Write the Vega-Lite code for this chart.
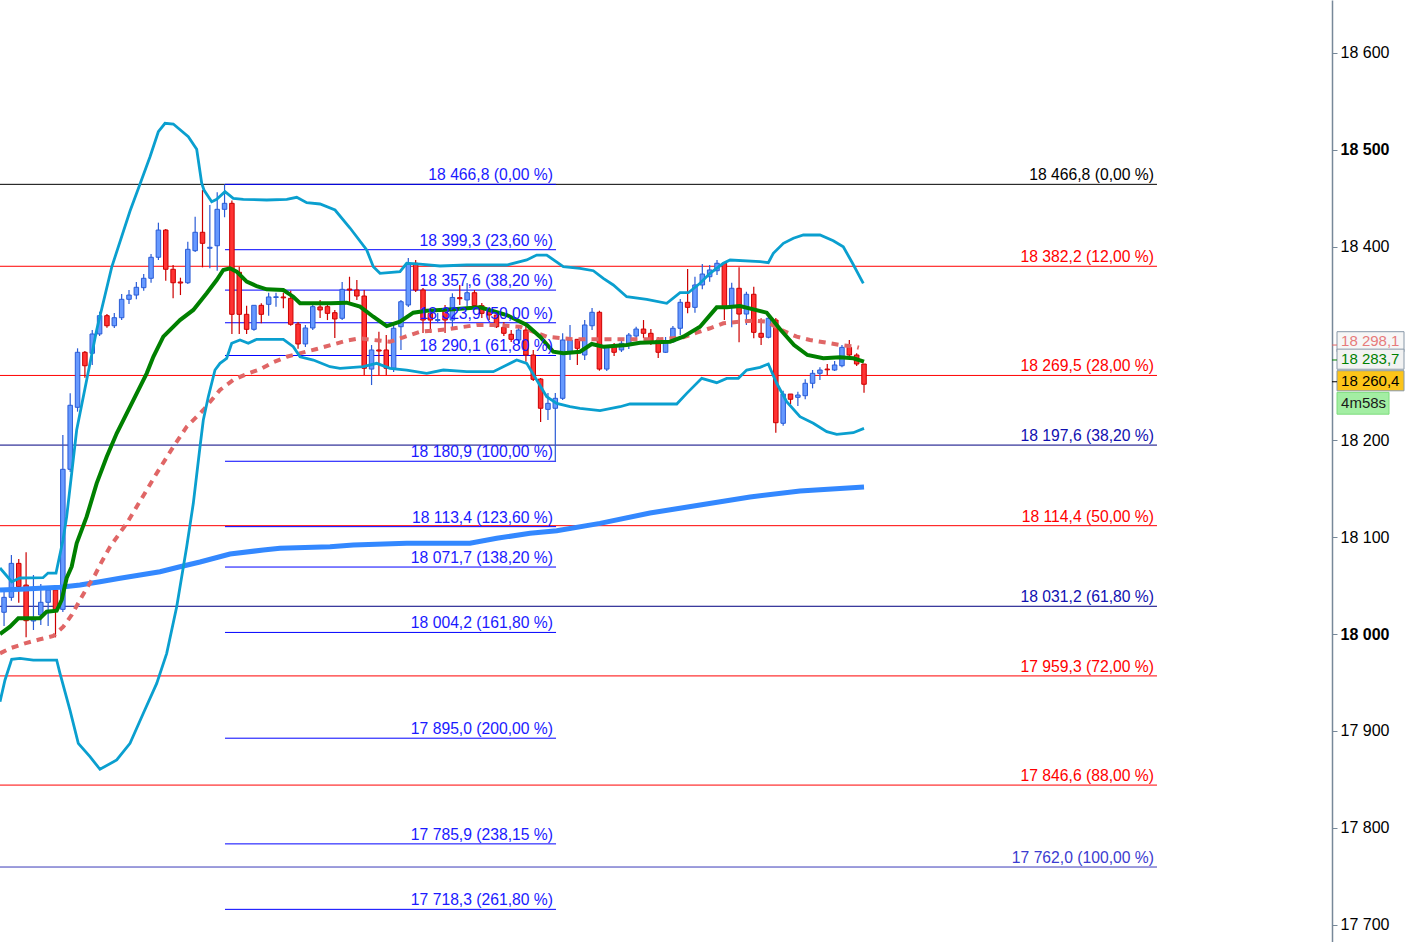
{
"$schema": "https://vega.github.io/schema/vega-lite/v6.json",
"width": 1332, "height": 942,
"autosize": {"type": "none"},
"padding": {"left": 0, "top": 0, "right": 73, "bottom": 0},
"background": "white",
"config": {"view": {"stroke": null}},
"resolve": {"axis": {"x": "independent", "y": "independent"}},
"datasets": {
"candles": [
{"k":0,"o":18001.5,"h":18030.4,"l":17999.5,"c":18025.3},
{"k":1,"o":18025.0,"h":18046.2,"l":18010.8,"c":18040.4},
{"k":2,"o":18040.4,"h":18084.1,"l":18036.9,"c":18075.5},
{"k":3,"o":18075.5,"h":18080.0,"l":18034.9,"c":18051.4},
{"k":4,"o":18053.1,"h":18086.9,"l":17999.1,"c":18016.3},
{"k":5,"o":18016.0,"h":18063.5,"l":18006.7,"c":18017.5},
{"k":6,"o":18022.2,"h":18054.2,"l":18011.8,"c":18035.3},
{"k":7,"o":18035.3,"h":18051.4,"l":18010.8,"c":18048.0},
{"k":8,"o":18048.0,"h":18050.0,"l":17999.1,"c":18028.0},
{"k":9,"o":18028.0,"h":18208.0,"l":18025.3,"c":18172.6},
{"k":10,"o":18172.6,"h":18251.0,"l":18169.8,"c":18238.7},
{"k":11,"o":18236.6,"h":18297.5,"l":18232.1,"c":18293.4},
{"k":12,"o":18293.4,"h":18294.7,"l":18267.2,"c":18279.5},
{"k":13,"o":18292.4,"h":18316.4,"l":18280.3,"c":18312.3},
{"k":14,"o":18312.3,"h":18335.3,"l":18310.2,"c":18331.2},
{"k":15,"o":18331.2,"h":18332.9,"l":18318.8,"c":18320.8},
{"k":16,"o":18320.8,"h":18334.0,"l":18318.5,"c":18329.1},
{"k":17,"o":18329.1,"h":18353.6,"l":18326.7,"c":18348.1},
{"k":18,"o":18348.1,"h":18357.7,"l":18343.2,"c":18352.5},
{"k":19,"o":18352.5,"h":18366.0,"l":18348.1,"c":18360.5},
{"k":20,"o":18360.1,"h":18374.2,"l":18357.0,"c":18369.8},
{"k":21,"o":18369.8,"h":18394.9,"l":18365.2,"c":18391.5},
{"k":22,"o":18391.5,"h":18427.2,"l":18388.7,"c":18419.6},
{"k":23,"o":18419.6,"h":18420.7,"l":18367.3,"c":18379.1},
{"k":24,"o":18379.1,"h":18383.5,"l":18349.1,"c":18365.2},
{"k":25,"o":18366.0,"h":18370.4,"l":18352.5,"c":18364.9},
{"k":26,"o":18365.2,"h":18407.6,"l":18363.9,"c":18399.7},
{"k":27,"o":18398.3,"h":18433.4,"l":18396.9,"c":18417.3},
{"k":28,"o":18417.3,"h":18460.9,"l":18381.1,"c":18405.9},
{"k":29,"o":18400.8,"h":18445.5,"l":18380.1,"c":18401.8},
{"k":30,"o":18403.4,"h":18458.6,"l":18377.6,"c":18441.0},
{"k":31,"o":18441.0,"h":18466.8,"l":18432.8,"c":18447.2},
{"k":32,"o":18447.2,"h":18450.0,"l":18312.3,"c":18332.6},
{"k":33,"o":18376.0,"h":18381.4,"l":18312.3,"c":18332.6},
{"k":34,"o":18332.6,"h":18341.5,"l":18312.3,"c":18317.1},
{"k":35,"o":18317.1,"h":18341.9,"l":18315.7,"c":18341.9},
{"k":36,"o":18341.9,"h":18344.0,"l":18323.3,"c":18332.6},
{"k":37,"o":18342.9,"h":18354.9,"l":18331.2,"c":18350.5},
{"k":38,"o":18350.0,"h":18354.9,"l":18340.5,"c":18350.7},
{"k":39,"o":18350.5,"h":18354.9,"l":18338.8,"c":18349.6},
{"k":40,"o":18349.1,"h":18357.0,"l":18320.8,"c":18322.3},
{"k":41,"o":18322.6,"h":18324.7,"l":18297.1,"c":18302.0},
{"k":42,"o":18302.0,"h":18321.6,"l":18298.9,"c":18318.5},
{"k":43,"o":18318.5,"h":18342.2,"l":18316.4,"c":18340.5},
{"k":44,"o":18340.2,"h":18347.4,"l":18328.8,"c":18337.1},
{"k":45,"o":18340.5,"h":18345.3,"l":18326.7,"c":18333.6},
{"k":46,"o":18334.3,"h":18337.1,"l":18308.1,"c":18327.8},
{"k":47,"o":18328.5,"h":18366.0,"l":18326.7,"c":18358.4},
{"k":48,"o":18358.7,"h":18371.4,"l":18344.0,"c":18357.7},
{"k":49,"o":18357.7,"h":18368.0,"l":18347.4,"c":18351.5},
{"k":50,"o":18351.5,"h":18357.7,"l":18269.9,"c":18276.9},
{"k":51,"o":18276.1,"h":18300.9,"l":18259.6,"c":18295.8},
{"k":52,"o":18295.8,"h":18314.6,"l":18269.9,"c":18294.7},
{"k":53,"o":18295.8,"h":18311.2,"l":18269.9,"c":18276.9},
{"k":54,"o":18276.9,"h":18321.6,"l":18273.0,"c":18318.2},
{"k":55,"o":18319.8,"h":18347.4,"l":18295.8,"c":18345.6},
{"k":56,"o":18342.2,"h":18390.7,"l":18340.2,"c":18385.3},
{"k":57,"o":18385.3,"h":18388.7,"l":18355.6,"c":18357.7},
{"k":58,"o":18357.7,"h":18359.8,"l":18313.3,"c":18326.7},
{"k":59,"o":18333.4,"h":18339.1,"l":18313.3,"c":18326.7},
{"k":60,"o":18326.2,"h":18334.0,"l":18324.7,"c":18327.2},
{"k":61,"o":18337.1,"h":18342.2,"l":18313.3,"c":18326.7},
{"k":62,"o":18326.7,"h":18354.3,"l":18316.4,"c":18350.0},
{"k":63,"o":18349.8,"h":18362.9,"l":18342.2,"c":18348.7},
{"k":64,"o":18347.4,"h":18364.9,"l":18340.5,"c":18354.9},
{"k":65,"o":18354.9,"h":18357.7,"l":18340.2,"c":18341.7},
{"k":66,"o":18341.5,"h":18344.3,"l":18328.8,"c":18333.6},
{"k":67,"o":18337.1,"h":18339.1,"l":18326.7,"c":18331.9},
{"k":68,"o":18331.9,"h":18334.0,"l":18318.5,"c":18319.8},
{"k":69,"o":18319.2,"h":18324.7,"l":18310.2,"c":18313.0},
{"k":70,"o":18312.0,"h":18316.4,"l":18304.0,"c":18306.8},
{"k":71,"o":18306.1,"h":18320.5,"l":18302.0,"c":18316.4},
{"k":72,"o":18316.4,"h":18320.5,"l":18283.7,"c":18290.6},
{"k":73,"o":18290.6,"h":18295.8,"l":18263.8,"c":18265.5},
{"k":74,"o":18265.8,"h":18266.8,"l":18221.4,"c":18235.6},
{"k":75,"o":18234.5,"h":18251.4,"l":18223.5,"c":18240.7},
{"k":76,"o":18235.6,"h":18251.4,"l":18180.9,"c":18245.9},
{"k":77,"o":18245.9,"h":18313.0,"l":18244.1,"c":18306.1},
{"k":78,"o":18293.7,"h":18321.6,"l":18285.4,"c":18306.1},
{"k":79,"o":18306.8,"h":18307.1,"l":18280.3,"c":18297.5},
{"k":80,"o":18290.6,"h":18326.7,"l":18285.4,"c":18321.6},
{"k":81,"o":18320.8,"h":18339.1,"l":18316.4,"c":18334.7},
{"k":82,"o":18334.7,"h":18336.3,"l":18274.4,"c":18276.1},
{"k":83,"o":18276.1,"h":18300.9,"l":18274.1,"c":18299.2},
{"k":84,"o":18300.9,"h":18302.9,"l":18289.6,"c":18293.4},
{"k":85,"o":18295.8,"h":18308.1,"l":18293.7,"c":18302.7},
{"k":86,"o":18300.9,"h":18313.3,"l":18296.8,"c":18311.2},
{"k":87,"o":18310.2,"h":18319.8,"l":18306.1,"c":18317.4},
{"k":88,"o":18317.4,"h":18326.7,"l":18308.1,"c":18313.0},
{"k":89,"o":18313.0,"h":18317.4,"l":18300.9,"c":18304.3},
{"k":90,"o":18306.1,"h":18309.2,"l":18287.5,"c":18293.4},
{"k":91,"o":18293.4,"h":18309.2,"l":18292.7,"c":18304.3},
{"k":92,"o":18304.3,"h":18320.5,"l":18302.9,"c":18318.2},
{"k":93,"o":18318.2,"h":18348.4,"l":18311.2,"c":18345.0},
{"k":94,"o":18345.0,"h":18379.4,"l":18333.6,"c":18339.8},
{"k":95,"o":18339.8,"h":18371.4,"l":18334.3,"c":18362.9},
{"k":96,"o":18362.9,"h":18384.5,"l":18358.4,"c":18374.2},
{"k":97,"o":18371.4,"h":18383.5,"l":18366.3,"c":18378.4},
{"k":98,"o":18377.6,"h":18388.7,"l":18373.2,"c":18385.3},
{"k":99,"o":18385.3,"h":18386.6,"l":18326.7,"c":18339.8},
{"k":100,"o":18339.8,"h":18365.2,"l":18319.2,"c":18359.5},
{"k":101,"o":18359.5,"h":18381.1,"l":18303.7,"c":18332.9},
{"k":102,"o":18332.9,"h":18355.9,"l":18321.6,"c":18353.3},
{"k":103,"o":18353.3,"h":18361.1,"l":18307.8,"c":18314.0},
{"k":104,"o":18313.0,"h":18328.5,"l":18300.9,"c":18308.9},
{"k":105,"o":18308.9,"h":18331.9,"l":18307.8,"c":18328.5},
{"k":106,"o":18326.7,"h":18328.8,"l":18210.4,"c":18220.7},
{"k":107,"o":18220.1,"h":18253.7,"l":18217.6,"c":18250.3},
{"k":108,"o":18250.3,"h":18250.3,"l":18240.0,"c":18244.9},
{"k":109,"o":18246.9,"h":18252.7,"l":18237.9,"c":18249.3},
{"k":110,"o":18248.6,"h":18265.5,"l":18244.9,"c":18261.4},
{"k":111,"o":18261.4,"h":18275.1,"l":18256.2,"c":18271.7},
{"k":112,"o":18271.7,"h":18277.9,"l":18264.8,"c":18275.1},
{"k":113,"o":18276.1,"h":18281.3,"l":18269.9,"c":18275.3},
{"k":114,"o":18275.1,"h":18284.4,"l":18274.1,"c":18280.3},
{"k":115,"o":18279.5,"h":18300.9,"l":18277.9,"c":18298.5},
{"k":116,"o":18298.5,"h":18306.1,"l":18288.8,"c":18290.6},
{"k":117,"o":18290.6,"h":18292.4,"l":18279.2,"c":18281.3},
{"k":118,"o":18281.3,"h":18281.3,"l":18251.7,"c":18260.4}
],
"upper": [{"k":0.45,"v":18070.7},{"k":2.04,"v":18056.5},{"k":3.17,"v":18060.4},{"k":6.3,"v":18060.7},{"k":6.98,"v":18065.5},{"k":8.07,"v":18065.5},{"k":9.02,"v":18099.6},{"k":9.52,"v":18123.7},{"k":10.88,"v":18213.2},{"k":12.24,"v":18264.8},{"k":13.6,"v":18316.4},{"k":15.65,"v":18381.4},{"k":18.14,"v":18439.3},{"k":19.5,"v":18467.1},{"k":20.86,"v":18495.3},{"k":21.99,"v":18521.1},{"k":22.9,"v":18529.8},{"k":24.03,"v":18529.1},{"k":26.07,"v":18516.0},{"k":27.21,"v":18503.0},{"k":27.89,"v":18467.9},{"k":28.2,"v":18460.9},{"k":29.25,"v":18448.9},{"k":29.93,"v":18451.3},{"k":31.06,"v":18459.2},{"k":32.19,"v":18452.4},{"k":33.55,"v":18451.3},{"k":36.73,"v":18450.6},{"k":39.46,"v":18451.3},{"k":40.82,"v":18453.4},{"k":42.18,"v":18447.8},{"k":43.99,"v":18446.5},{"k":46.03,"v":18440.3},{"k":48.07,"v":18421.7},{"k":50.34,"v":18399.0},{"k":51.24,"v":18381.8},{"k":52.15,"v":18374.9},{"k":54.87,"v":18376.6},{"k":55.78,"v":18385.3},{"k":57.59,"v":18384.5},{"k":60.31,"v":18382.5},{"k":63.95,"v":18383.5},{"k":69.39,"v":18383.5},{"k":72.11,"v":18388.7},{"k":73.47,"v":18393.8},{"k":74.83,"v":18393.8},{"k":77.09,"v":18381.8},{"k":79.36,"v":18380.1},{"k":81.17,"v":18377.6},{"k":82.53,"v":18369.8},{"k":83.89,"v":18362.9},{"k":85.71,"v":18350.8},{"k":88.44,"v":18348.1},{"k":91.16,"v":18344.0},{"k":92.97,"v":18354.9},{"k":94.1,"v":18354.9},{"k":95.69,"v":18364.6},{"k":97.05,"v":18374.9},{"k":98.86,"v":18385.3},{"k":99.78,"v":18388.7},{"k":103.86,"v":18386.9},{"k":104.98,"v":18385.9},{"k":105.66,"v":18395.6},{"k":107.03,"v":18405.9},{"k":108.39,"v":18411.1},{"k":109.75,"v":18414.5},{"k":112.01,"v":18414.5},{"k":113.82,"v":18408.6},{"k":115.18,"v":18402.4},{"k":116.44,"v":18385.3},{"k":117.9,"v":18364.6}],
"lower": [{"k":0.45,"v":17932.7},{"k":1.13,"v":17955.1},{"k":2.04,"v":17976.4},{"k":3.17,"v":17977.4},{"k":4.98,"v":17975.7},{"k":8.16,"v":17975.7},{"k":8.61,"v":17962.0},{"k":9.97,"v":17924.1},{"k":11.1,"v":17889.7},{"k":12.69,"v":17875.9},{"k":14.05,"v":17862.9},{"k":16.33,"v":17872.5},{"k":18.14,"v":17889.7},{"k":19.95,"v":17920.7},{"k":21.77,"v":17951.6},{"k":23.13,"v":17982.6},{"k":24.49,"v":18030.7},{"k":25.85,"v":18092.7},{"k":26.75,"v":18137.5},{"k":27.66,"v":18195.9},{"k":28.11,"v":18223.5},{"k":28.79,"v":18247.5},{"k":29.7,"v":18275.1},{"k":30.38,"v":18282.0},{"k":31.29,"v":18287.2},{"k":31.97,"v":18302.7},{"k":33.1,"v":18306.1},{"k":34.23,"v":18302.7},{"k":35.37,"v":18306.8},{"k":39.0,"v":18306.8},{"k":40.35,"v":18299.2},{"k":41.27,"v":18288.8},{"k":43.08,"v":18285.4},{"k":45.35,"v":18278.5},{"k":46.71,"v":18276.9},{"k":49.88,"v":18278.5},{"k":51.7,"v":18282.0},{"k":53.51,"v":18276.9},{"k":55.78,"v":18275.1},{"k":58.5,"v":18271.7},{"k":60.76,"v":18275.1},{"k":63.95,"v":18273.4},{"k":67.56,"v":18273.4},{"k":69.39,"v":18280.3},{"k":70.75,"v":18285.4},{"k":72.11,"v":18282.0},{"k":73.47,"v":18264.8},{"k":74.83,"v":18247.5},{"k":76.19,"v":18240.7},{"k":78.0,"v":18237.2},{"k":79.36,"v":18235.6},{"k":82.08,"v":18233.1},{"k":84.8,"v":18237.2},{"k":86.16,"v":18240.0},{"k":92.52,"v":18240.0},{"k":93.88,"v":18251.0},{"k":95.92,"v":18266.5},{"k":97.96,"v":18262.0},{"k":99.32,"v":18266.5},{"k":100.9,"v":18266.5},{"k":102.04,"v":18275.1},{"k":103.85,"v":18277.9},{"k":104.98,"v":18281.3},{"k":106.12,"v":18261.4},{"k":107.48,"v":18242.4},{"k":109.29,"v":18226.9},{"k":111.1,"v":18220.1},{"k":112.93,"v":18211.4},{"k":114.29,"v":18208.7},{"k":116.54,"v":18210.4},{"k":118,"v":18214.9}],
"green": [{"k":0.45,"v":18002.5},{"k":1.81,"v":18010.1},{"k":2.94,"v":18018.8},{"k":5.89,"v":18018.8},{"k":6.8,"v":18025.6},{"k":8.16,"v":18026.6},{"k":8.84,"v":18037.7},{"k":9.52,"v":18060.4},{"k":10.2,"v":18072.0},{"k":10.88,"v":18096.2},{"k":12.24,"v":18123.7},{"k":13.6,"v":18158.1},{"k":14.97,"v":18185.6},{"k":16.33,"v":18209.8},{"k":17.69,"v":18230.4},{"k":19.05,"v":18251.0},{"k":20.41,"v":18271.7},{"k":21.31,"v":18288.8},{"k":22.67,"v":18309.5},{"k":24.94,"v":18326.7},{"k":26.75,"v":18337.1},{"k":28.57,"v":18354.3},{"k":29.93,"v":18368.0},{"k":30.83,"v":18378.4},{"k":31.74,"v":18380.1},{"k":32.65,"v":18376.6},{"k":34.01,"v":18366.3},{"k":35.37,"v":18361.8},{"k":36.73,"v":18358.4},{"k":38.99,"v":18357.7},{"k":40.35,"v":18350.8},{"k":41.27,"v":18344.0},{"k":45.35,"v":18344.0},{"k":47.62,"v":18344.6},{"k":49.43,"v":18340.5},{"k":51.24,"v":18330.1},{"k":53.06,"v":18320.5},{"k":54.87,"v":18325.0},{"k":56.68,"v":18334.3},{"k":58.5,"v":18336.3},{"k":62.12,"v":18337.8},{"k":65.76,"v":18339.8},{"k":69.39,"v":18331.9},{"k":72.11,"v":18321.6},{"k":73.92,"v":18309.5},{"k":75.73,"v":18294.0},{"k":77.09,"v":18292.4},{"k":79.36,"v":18294.0},{"k":80.95,"v":18302.0},{"k":82.53,"v":18299.2},{"k":85.71,"v":18300.9},{"k":87.52,"v":18303.3},{"k":91.61,"v":18304.3},{"k":93.42,"v":18309.5},{"k":95.69,"v":18319.8},{"k":97.96,"v":18339.8},{"k":99.32,"v":18339.8},{"k":101.12,"v":18341.2},{"k":104.76,"v":18334.3},{"k":106.67,"v":18316.4},{"k":108.48,"v":18300.9},{"k":110.3,"v":18290.6},{"k":112.46,"v":18287.2},{"k":114.73,"v":18288.2},{"k":116.54,"v":18287.2},{"k":118,"v":18283.7}],
"pink": [{"k":0.45,"v":17982.6},{"k":1.81,"v":17987.8},{"k":3.85,"v":17992.9},{"k":5.89,"v":17997.1},{"k":7.7,"v":18000.5},{"k":9.06,"v":18010.1},{"k":10.2,"v":18022.2},{"k":11.33,"v":18037.7},{"k":12.24,"v":18049.7},{"k":13.37,"v":18063.5},{"k":14.29,"v":18077.2},{"k":15.42,"v":18092.7},{"k":17.69,"v":18116.8},{"k":19.73,"v":18142.6},{"k":21.77,"v":18168.5},{"k":24.03,"v":18195.9},{"k":25.85,"v":18216.6},{"k":28.11,"v":18233.8},{"k":30.38,"v":18254.5},{"k":32.19,"v":18264.8},{"k":34.01,"v":18271.0},{"k":35.82,"v":18275.8},{"k":37.63,"v":18283.1},{"k":39.46,"v":18288.8},{"k":43.54,"v":18296.8},{"k":47.62,"v":18305.4},{"k":49.43,"v":18307.8},{"k":51.24,"v":18306.1},{"k":53.51,"v":18304.3},{"k":55.32,"v":18308.9},{"k":57.59,"v":18314.6},{"k":61.22,"v":18317.1},{"k":65.31,"v":18321.6},{"k":67.56,"v":18321.6},{"k":71.2,"v":18319.8},{"k":74.83,"v":18309.5},{"k":78.45,"v":18306.8},{"k":85.71,"v":18306.8},{"k":90.24,"v":18306.8},{"k":93.42,"v":18308.9},{"k":95.24,"v":18313.6},{"k":97.05,"v":18318.2},{"k":98.86,"v":18323.3},{"k":101.12,"v":18325.0},{"k":102.93,"v":18326.0},{"k":104.76,"v":18325.0},{"k":106.56,"v":18317.1},{"k":108.84,"v":18309.5},{"k":110.65,"v":18306.1},{"k":112.93,"v":18303.3},{"k":114.73,"v":18300.9},{"k":116.78,"v":18299.2},{"k":117.3,"v":18298.1}],
"ma": [{"k":0.45,"v":18048.0},{"k":3.17,"v":18048.7},{"k":5.89,"v":18049.7},{"k":8.61,"v":18050.8},{"k":11.33,"v":18053.1},{"k":14.05,"v":18056.5},{"k":16.78,"v":18060.1},{"k":19.5,"v":18063.5},{"k":22.22,"v":18066.9},{"k":24.94,"v":18072.0},{"k":27.66,"v":18076.9},{"k":31.74,"v":18085.1},{"k":36.27,"v":18089.3},{"k":38.54,"v":18091.0},{"k":45.35,"v":18092.7},{"k":48.52,"v":18094.4},{"k":55.78,"v":18096.2},{"k":64.39,"v":18096.2},{"k":68.03,"v":18101.4},{"k":72.56,"v":18106.5},{"k":76.19,"v":18109.2},{"k":82.08,"v":18116.8},{"k":88.88,"v":18127.5},{"k":95.69,"v":18135.7},{"k":102.49,"v":18144.0},{"k":109.29,"v":18150.2},{"k":118,"v":18154.3}],
"fibR": [
{"price":18466.8,"label":"18 466,8 (0,00 %)","kind":"k"},
{"price":18382.2,"label":"18 382,2 (12,00 %)","kind":"r"},
{"price":18269.5,"label":"18 269,5 (28,00 %)","kind":"r"},
{"price":18197.6,"label":"18 197,6 (38,20 %)","kind":"n"},
{"price":18114.4,"label":"18 114,4 (50,00 %)","kind":"r"},
{"price":18031.2,"label":"18 031,2 (61,80 %)","kind":"n"},
{"price":17959.3,"label":"17 959,3 (72,00 %)","kind":"r"},
{"price":17846.6,"label":"17 846,6 (88,00 %)","kind":"r"},
{"price":17762.0,"label":"17 762,0 (100,00 %)","kind":"b"}],
"fibL": [
{"price":18466.8,"label":"18 466,8 (0,00 %)"},
{"price":18399.3,"label":"18 399,3 (23,60 %)"},
{"price":18357.6,"label":"18 357,6 (38,20 %)"},
{"price":18323.9,"label":"18 323,9 (50,00 %)"},
{"price":18290.1,"label":"18 290,1 (61,80 %)"},
{"price":18180.9,"label":"18 180,9 (100,00 %)"},
{"price":18113.4,"label":"18 113,4 (123,60 %)"},
{"price":18071.7,"label":"18 071,7 (138,20 %)"},
{"price":18004.2,"label":"18 004,2 (161,80 %)"},
{"price":17895.0,"label":"17 895,0 (200,00 %)"},
{"price":17785.9,"label":"17 785,9 (238,15 %)"},
{"price":17718.3,"label":"17 718,3 (261,80 %)"}],
"badges": [
{"name":"pink","price":18298.1,"txt":"18 298,1"},
{"name":"green","price":18283.7,"txt":"18 283,7"},
{"name":"gold","price":18260.4,"txt":"18 260,4"},
{"name":"timer","price":18260.4,"txt":"4m58s"}]
},
"layer": [
{"data":{"name":"fibR"},"mark":{"type":"rule","strokeWidth":1},
 "encoding":{
  "x":{"datum":-1,"type":"quantitative","scale":{"domain":[0.449,181.67],"nice":false,"zero":false,"padding":0},"axis":null},
  "x2":{"datum":157.86},
  "y":{"field":"price","type":"quantitative","scale":{"domain":[17684.6,18657.1],"nice":false,"zero":false,"padding":0},
   "axis":{"orient":"right","values":[17700,17800,17900,18000,18100,18200,18400,18500,18600],"title":null,"grid":false,
    "labelExpr":"replace(format(datum.value, ',d'), ',', ' ')",
    "labelFont":"Liberation Sans","labelFontSize":16,"labelColor":"#000000","labelPadding":3,
    "labelFontWeight":{"condition":{"test":"datum.value % 500 === 0","value":"bold"},"value":"normal"},
    "domainColor":"#778899","domainWidth":1.5,"tickColor":"#778899","tickSize":5,"tickWidth":1,"tickOffset":-2.4,
    "labelOverlap":false,"labelFlush":false}},
  "stroke":{"field":"kind","type":"nominal","scale":{"domain":["k","r","n","b"],"range":["#000000","#ff0000","#000080","#3a3ab8"]},"legend":null}}},
{"data":{"name":"fibL"},"mark":{"type":"rule","strokeWidth":1,"color":"#0000ff"},
 "encoding":{"x":{"datum":31.06,"type":"quantitative","axis":null},"x2":{"datum":76.1},
  "y":{"field":"price","type":"quantitative","axis":null}}},
{"data":{"name":"candles"},"mark":{"type":"rule","strokeWidth":1.2},
 "encoding":{"x":{"field":"k","type":"quantitative","axis":null},
  "y":{"field":"l","type":"quantitative","axis":null},"y2":{"field":"h"},
  "stroke":{"condition":{"test":"datum.c >= datum.o","value":"#2a5cd6"},"value":"#cc0000"}}},
{"data":{"name":"candles"},"mark":{"type":"bar","orient":"vertical","size":4.5,"strokeWidth":1},
 "encoding":{"x":{"field":"k","type":"quantitative","axis":null},
  "y":{"field":"o","type":"quantitative","axis":null},"y2":{"field":"c"},
  "fill":{"condition":{"test":"datum.c >= datum.o","value":"#6699ff"},"value":"#ff3333"},
  "stroke":{"condition":{"test":"datum.c >= datum.o","value":"#2a5cd6"},"value":"#cc0000"}}},
{"data":{"name":"ma"},"mark":{"type":"line","stroke":"#3388ff","strokeWidth":5},
 "encoding":{"x":{"field":"k","type":"quantitative","axis":null},"y":{"field":"v","type":"quantitative","axis":null}}},
{"data":{"name":"pink"},"mark":{"type":"line","stroke":"#e06666","strokeWidth":4,"strokeDash":[7,6]},
 "encoding":{"x":{"field":"k","type":"quantitative","axis":null},"y":{"field":"v","type":"quantitative","axis":null}}},
{"data":{"name":"upper"},"mark":{"type":"line","stroke":"#0a9fcf","strokeWidth":2.8},
 "encoding":{"x":{"field":"k","type":"quantitative","axis":null},"y":{"field":"v","type":"quantitative","axis":null}}},
{"data":{"name":"lower"},"mark":{"type":"line","stroke":"#0a9fcf","strokeWidth":2.8},
 "encoding":{"x":{"field":"k","type":"quantitative","axis":null},"y":{"field":"v","type":"quantitative","axis":null}}},
{"data":{"name":"green"},"mark":{"type":"line","stroke":"#008000","strokeWidth":4},
 "encoding":{"x":{"field":"k","type":"quantitative","axis":null},"y":{"field":"v","type":"quantitative","axis":null}}},
{"data":{"name":"fibR"},"mark":{"type":"text","align":"right","baseline":"alphabetic","dx":-3,"dy":-4,"font":"Liberation Sans","fontSize":15.7},
 "encoding":{"x":{"datum":157.86,"type":"quantitative","axis":null},"y":{"field":"price","type":"quantitative","axis":null},
  "text":{"field":"label"},
  "fill":{"field":"kind","type":"nominal","scale":{"domain":["k","r","n","b"],"range":["#000000","#ff0000","#1010b0","#3b3bd0"]},"legend":null}}},
{"data":{"name":"fibL"},"mark":{"type":"text","align":"right","baseline":"alphabetic","dx":-3,"dy":-4,"font":"Liberation Sans","fontSize":15.7,"color":"#1a1aff"},
 "encoding":{"x":{"datum":76.1,"type":"quantitative","axis":null},"y":{"field":"price","type":"quantitative","axis":null},
  "text":{"field":"label"}}},
{"data":{"name":"badges"},"transform":[{"filter":"datum.name === 'pink'"}],
 "mark":{"type":"point","shape":"M-1,-0.3L1,-0.3L1,0.3L-1,0.3Z","size":4489,"filled":true,"fill":"#f6f6f6","stroke":"#8898a8","strokeWidth":1,"opacity":1,"yOffset":-6},
 "encoding":{"x":{"datum":186.91,"type":"quantitative","axis":null},"y":{"field":"price","type":"quantitative","axis":null}}},
{"data":{"name":"badges"},"transform":[{"filter":"datum.name === 'pink'"}],
 "mark":{"type":"rule","stroke":"#e06666","strokeWidth":1,"yOffset":-2.7},
 "encoding":{"x":{"datum":181.67,"type":"quantitative","axis":null},"x2":{"datum":182.35},"y":{"field":"price","type":"quantitative","axis":null}}},
{"data":{"name":"badges"},"transform":[{"filter":"datum.name === 'pink'"}],
 "mark":{"type":"text","align":"left","baseline":"middle","dy":-7,"font":"Liberation Sans","fontSize":15,"color":"#e77b7b"},
 "encoding":{"x":{"datum":182.9,"type":"quantitative","axis":null},"y":{"field":"price","type":"quantitative","axis":null},"text":{"field":"txt"}}},
{"data":{"name":"badges"},"transform":[{"filter":"datum.name === 'green'"}],
 "mark":{"type":"point","shape":"M-1,-0.3L1,-0.3L1,0.3L-1,0.3Z","size":4489,"filled":true,"fill":"#f2f2f2","stroke":"#8898a8","strokeWidth":1,"opacity":1,"yOffset":-2.5},
 "encoding":{"x":{"datum":186.91,"type":"quantitative","axis":null},"y":{"field":"price","type":"quantitative","axis":null}}},
{"data":{"name":"badges"},"transform":[{"filter":"datum.name === 'green'"}],
 "mark":{"type":"rule","stroke":"#008000","strokeWidth":1,"yOffset":-1.7},
 "encoding":{"x":{"datum":181.67,"type":"quantitative","axis":null},"x2":{"datum":182.35},"y":{"field":"price","type":"quantitative","axis":null}}},
{"data":{"name":"badges"},"transform":[{"filter":"datum.name === 'green'"}],
 "mark":{"type":"text","align":"left","baseline":"middle","dy":-2.5,"font":"Liberation Sans","fontSize":15,"color":"#008000"},
 "encoding":{"x":{"datum":182.9,"type":"quantitative","axis":null},"y":{"field":"price","type":"quantitative","axis":null},"text":{"field":"txt"}}},
{"data":{"name":"badges"},"transform":[{"filter":"datum.name === 'gold'"}],
 "mark":{"type":"point","shape":"M-1,-0.3L1,-0.3L1,0.3L-1,0.3Z","size":4489,"filled":true,"fill":"#fcc419","stroke":"#8898a8","strokeWidth":1,"opacity":1,"yOffset":-3.5},
 "encoding":{"x":{"datum":186.91,"type":"quantitative","axis":null},"y":{"field":"price","type":"quantitative","axis":null}}},
{"data":{"name":"badges"},"transform":[{"filter":"datum.name === 'gold'"}],
 "mark":{"type":"rule","stroke":"#000000","strokeWidth":1,"yOffset":-2.5},
 "encoding":{"x":{"datum":181.67,"type":"quantitative","axis":null},"x2":{"datum":182.35},"y":{"field":"price","type":"quantitative","axis":null}}},
{"data":{"name":"badges"},"transform":[{"filter":"datum.name === 'gold'"}],
 "mark":{"type":"text","align":"left","baseline":"middle","dy":-3.5,"font":"Liberation Sans","fontSize":15,"color":"#000000"},
 "encoding":{"x":{"datum":182.9,"type":"quantitative","axis":null},"y":{"field":"price","type":"quantitative","axis":null},"text":{"field":"txt"}}},
{"data":{"name":"badges"},"transform":[{"filter":"datum.name === 'timer'"}],
 "mark":{"type":"point","shape":"M-1,-0.42L1,-0.42L1,0.42L-1,0.42Z","size":2704,"filled":true,"fill":"#a3eea3","stroke":"#7ddc7d","strokeWidth":1,"opacity":1,"yOffset":19},
 "encoding":{"x":{"datum":185.89,"type":"quantitative","axis":null},"y":{"field":"price","type":"quantitative","axis":null}}},
{"data":{"name":"badges"},"transform":[{"filter":"datum.name === 'timer'"}],
 "mark":{"type":"text","align":"left","baseline":"middle","dy":19,"font":"Liberation Sans","fontSize":15,"color":"#1a1a1a"},
 "encoding":{"x":{"datum":182.9,"type":"quantitative","axis":null},"y":{"field":"price","type":"quantitative","axis":null},"text":{"field":"txt"}}}
]
}
